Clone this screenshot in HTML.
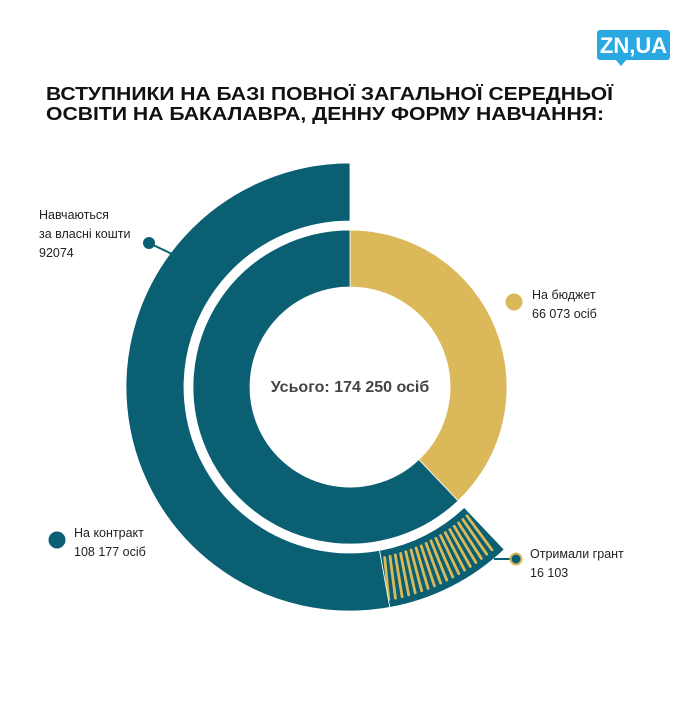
<!DOCTYPE html>
<html><head><meta charset="utf-8"><style>
body{margin:0;background:#fff;}
svg text{font-family:"Liberation Sans",sans-serif;}
</style></head><body>
<svg id="c" width="700" height="700" viewBox="0 0 700 700">
<rect width="700" height="700" fill="#fff"/>
<g>
<rect x="597" y="30" width="73" height="30" rx="3" fill="#29a8e1"/>
<path d="M615 59 L621 66 L627 59 Z" fill="#29a8e1"/>
<text x="633.5" y="53" text-anchor="middle" font-size="22" font-weight="bold" fill="#fff">ZN,UA</text>
</g>
<g font-size="18" font-weight="bold" fill="#111">
<text x="46" y="100" textLength="567" lengthAdjust="spacingAndGlyphs">ВСТУПНИКИ НА БАЗІ ПОВНОЇ ЗАГАЛЬНОЇ СЕРЕДНЬОЇ</text>
<text x="46" y="120" textLength="558" lengthAdjust="spacingAndGlyphs">ОСВІТИ НА БАКАЛАВРА, ДЕННУ ФОРМУ НАВЧАННЯ:</text>
</g>
<g id="rings"></g>
<text x="350" y="392" text-anchor="middle" font-size="16" font-weight="bold" fill="#444">Усього: 174 250 осіб</text>
<g font-size="12.5" fill="#222">
<text x="39" y="219">Навчаються</text><text x="39" y="238">за власні кошти</text><text x="39" y="257">92074</text>
<line x1="149" y1="243" x2="172" y2="254" stroke="#0a5f72" stroke-width="2"/><circle cx="149" cy="243" r="6" fill="#0a5f72"/>
</g>
<g font-size="12.5" fill="#222">
<circle cx="514" cy="302" r="8.5" fill="#dbb95a"/>
<text x="532" y="299">На бюджет</text><text x="532" y="318">66 073 осіб</text>
</g>
<g font-size="12.5" fill="#222">
<circle cx="57" cy="540" r="8.5" fill="#0a5f72"/>
<text x="74" y="537">На контракт</text><text x="74" y="556">108 177 осіб</text>
</g>
<g font-size="12.5" fill="#222">
<line x1="494" y1="559" x2="512" y2="559" stroke="#0a5f72" stroke-width="2"/>
<circle cx="516" cy="559" r="5.5" fill="#0a5f72" stroke="#dbb95a" stroke-width="2"/>
<text x="530" y="558">Отримали грант</text><text x="530" y="577">16 103</text>
</g>
</svg>
<script>
const categories = ["На бюджет", "На контракт"];
const innerValues = [66073, 108177];
const outerCategories = ["Отримали грант", "Навчаються за власні кошти"];
const outerValues = [16103, 92074];
const total = innerValues[0] + innerValues[1];
const cx = 350, cy = 387;
const NS = "http://www.w3.org/2000/svg";
const g = document.getElementById("rings");
function ang(v){ return v / total * 2 * Math.PI; }
function pt(a, r){ return [cx + r * Math.sin(a), cy - r * Math.cos(a)]; }
function arc(a0, a1, r0, r1){
  const l = Math.abs(a1 - a0) > Math.PI ? 1 : 0;
  const [x0,y0]=pt(a0,r1),[x1,y1]=pt(a1,r1),[x2,y2]=pt(a1,r0),[x3,y3]=pt(a0,r0);
  return `M${x0} ${y0}A${r1} ${r1} 0 ${l} 1 ${x1} ${y1}L${x2} ${y2}A${r0} ${r0} 0 ${l} 0 ${x3} ${y3}Z`;
}
const innerColors = ["#dbb95a", "#0a5f72"];
let a = 0;
innerValues.forEach((v, i) => {
  const p = document.createElementNS(NS, "path");
  p.setAttribute("d", arc(a, a + ang(v), 100, 157));
  p.setAttribute("fill", innerColors[i]);
  p.setAttribute("stroke", "#fff"); p.setAttribute("stroke-width", "0.8");
  
  
  g.appendChild(p);
  a += ang(v);
});
let b = ang(innerValues[0]);
outerValues.forEach((v, i) => {
  const p = document.createElementNS(NS, "path");
  p.setAttribute("d", arc(b, b + ang(v), 166, 224));
  p.setAttribute("fill", "#0a5f72");
  p.setAttribute("stroke", "#fff"); p.setAttribute("stroke-width", "0.8");
  
  
  g.appendChild(p);
  if (i === 0) {
    const n = Math.max(1, Math.round(ang(v) / 0.032));
    for (let k = 0; k < n; k++) {
      const t = b + ang(v) * (k + 0.7) / (n + 0.4);
      const [x0,y0] = pt(t, 174), [x1,y1] = pt(t + 0.02, 216);
      const l = document.createElementNS(NS, "line");
      l.setAttribute("x1", x0); l.setAttribute("y1", y0);
      l.setAttribute("x2", x1); l.setAttribute("y2", y1);
      l.setAttribute("stroke", "#dbb95a"); l.setAttribute("stroke-width", "2.8");
      l.setAttribute("stroke-linecap", "round");
      
      
      g.appendChild(l);
    }
  }
  b += ang(v);
});
</script>
</body></html>
